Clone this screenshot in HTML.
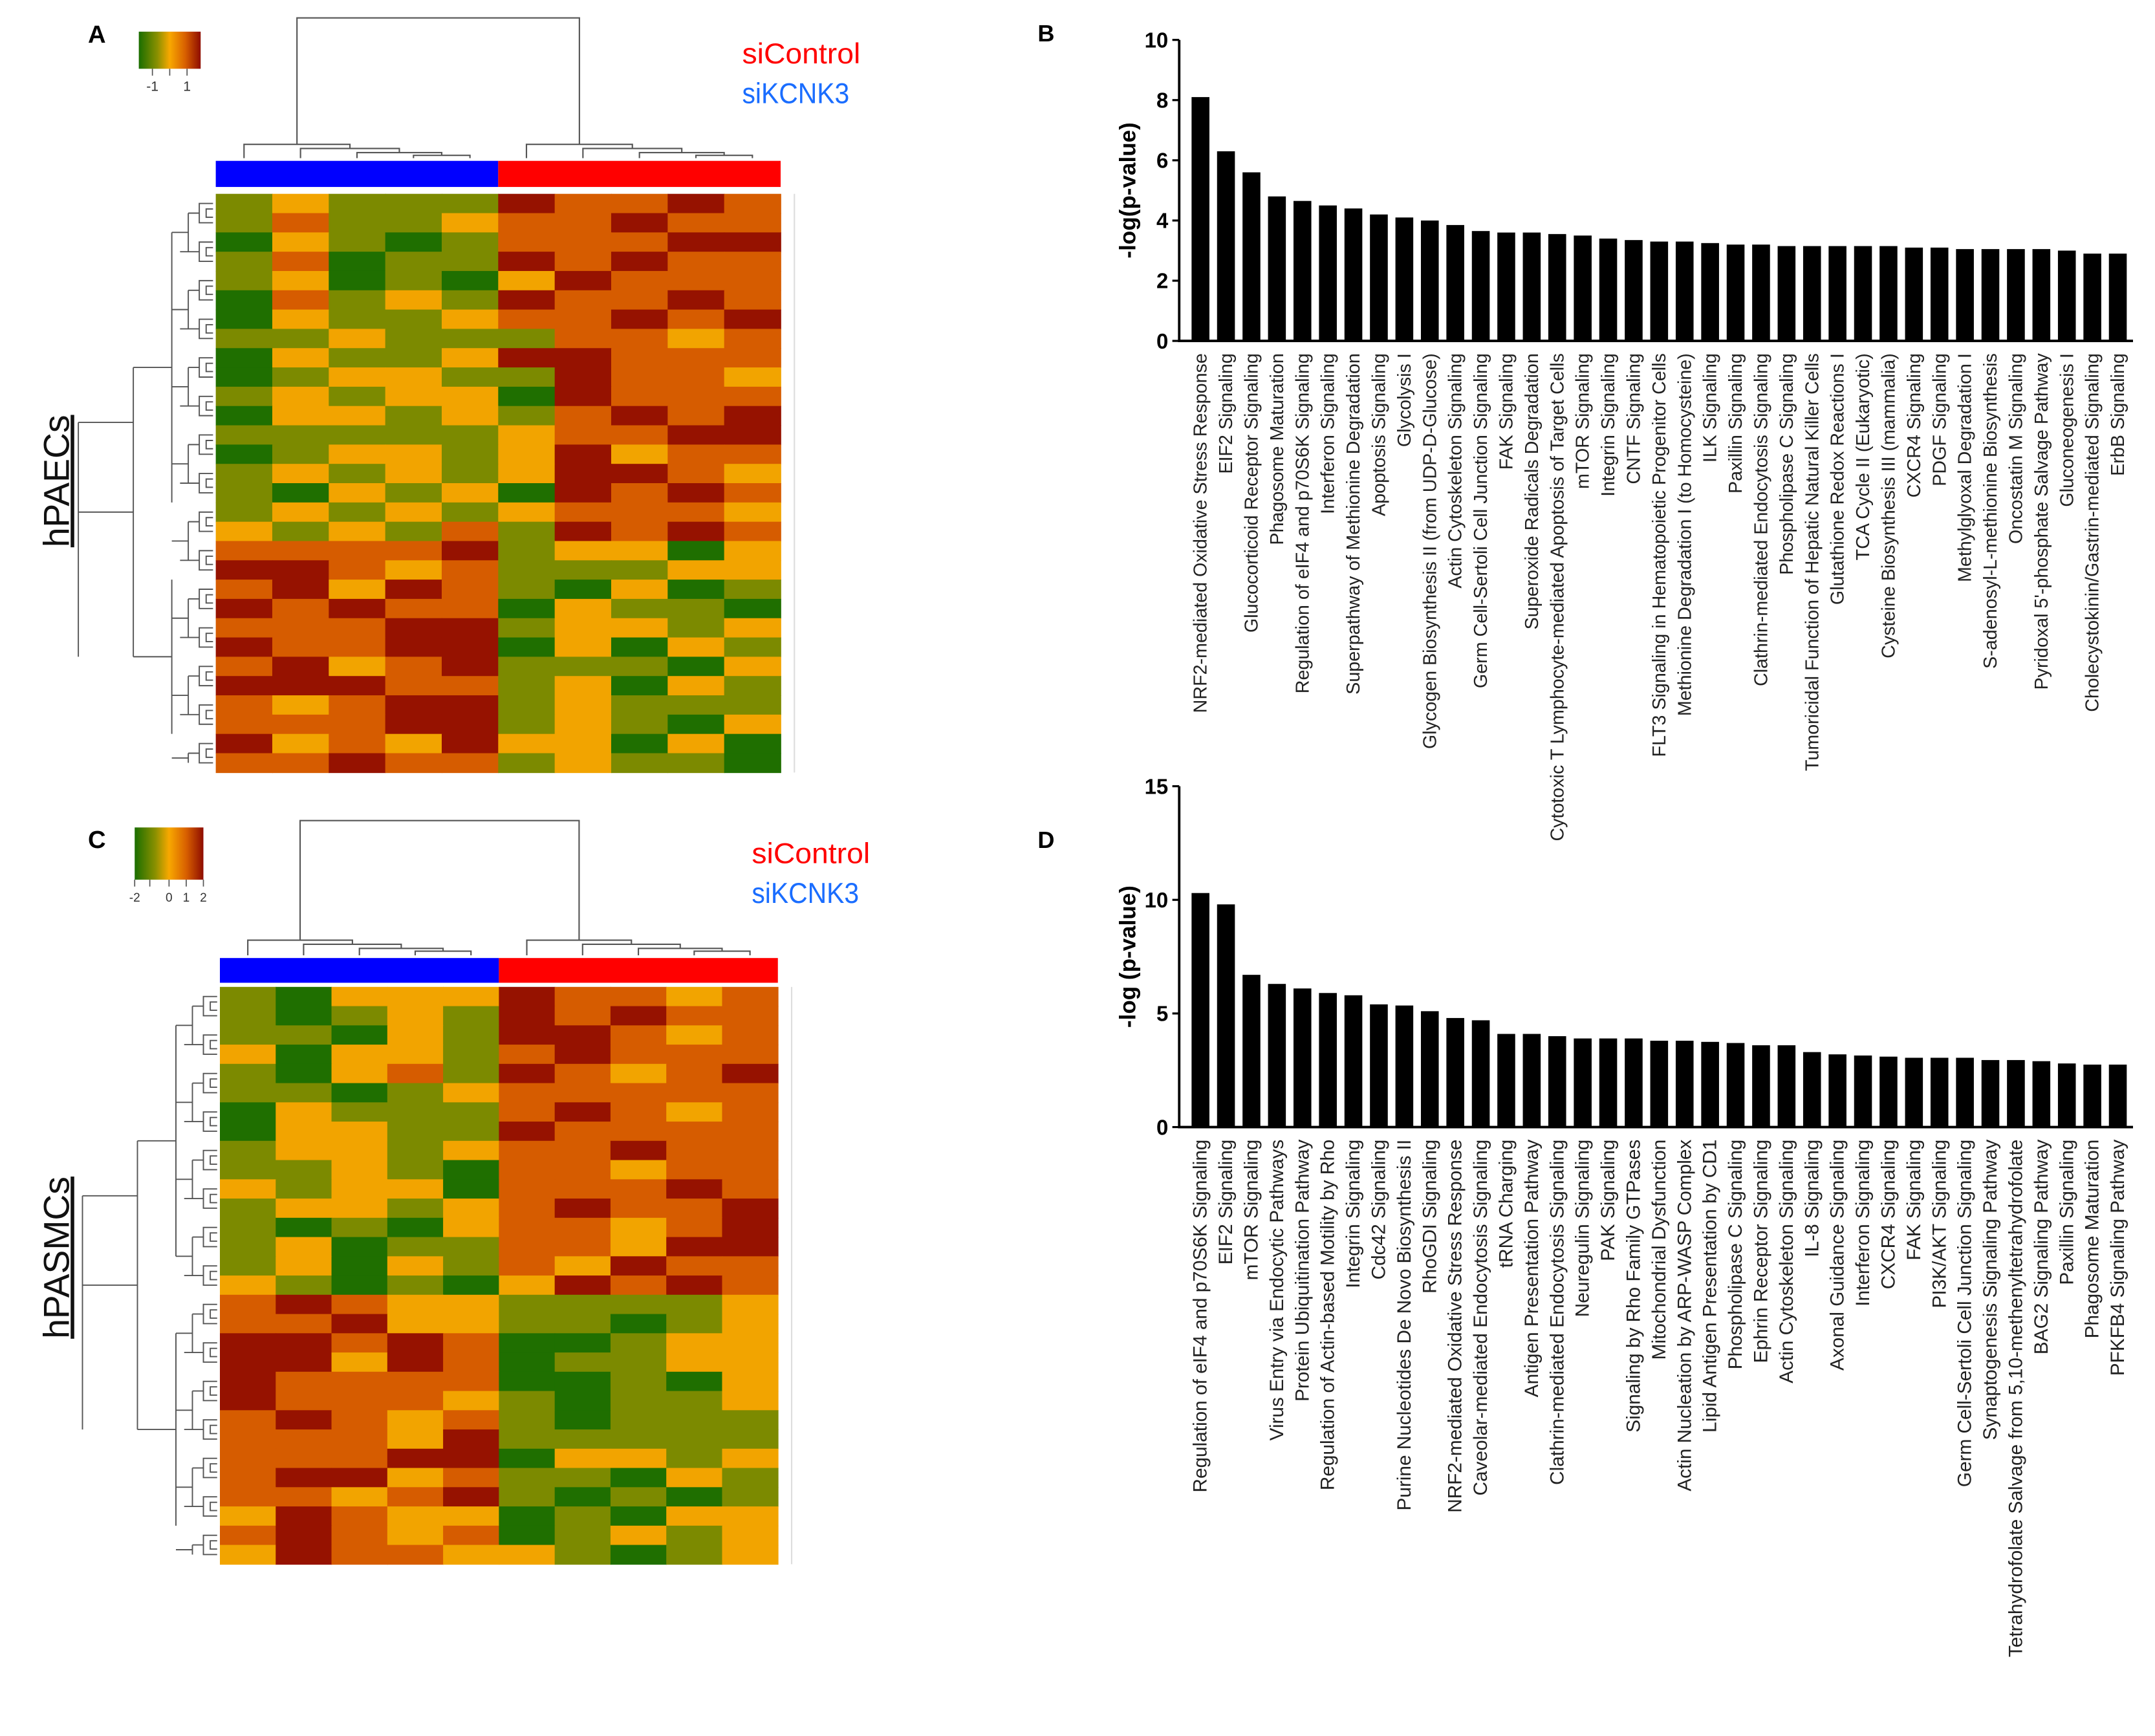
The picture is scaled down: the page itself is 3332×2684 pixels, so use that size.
<!DOCTYPE html>
<html><head><meta charset="utf-8">
<style>
html,body{margin:0;padding:0;background:#fff;}
svg{display:block;}
text{font-family:"Liberation Sans",Arial,sans-serif;}
</style></head>
<body>
<svg id="fig" width="3332" height="2684" viewBox="0 0 1568 1263" xmlns="http://www.w3.org/2000/svg">
<defs>
<linearGradient id="keygrad" x1="0" x2="1" y1="0" y2="0">
<stop offset="0" stop-color="#1a6e00"/><stop offset="0.3" stop-color="#8a9000"/><stop offset="0.5" stop-color="#f8a800"/><stop offset="0.75" stop-color="#d86000"/><stop offset="1" stop-color="#8e0c00"/>
</linearGradient>
</defs>
<g id="panelA"></g>
<g id="panelC"></g>
<g id="panelB"></g>
<g id="panelD"></g>
</svg>
<script>
// ---------- Panel B data ----------
const catsB = ["NRF2-mediated Oxidative Stress Response","EIF2 Signaling","Glucocorticoid Receptor Signaling","Phagosome Maturation","Regulation of eIF4 and p70S6K Signaling","Interferon Signaling","Superpathway of Methionine Degradation","Apoptosis Signaling","Glycolysis I","Glycogen Biosynthesis II (from UDP-D-Glucose)","Actin Cytoskeleton Signaling","Germ Cell-Sertoli Cell Junction Signaling","FAK Signaling","Superoxide Radicals Degradation","Cytotoxic T Lymphocyte-mediated Apoptosis of Target Cells","mTOR Signaling","Integrin Signaling","CNTF Signaling","FLT3 Signaling in Hematopoietic Progenitor Cells","Methionine Degradation I (to Homocysteine)","ILK Signaling","Paxillin Signaling","Clathrin-mediated Endocytosis Signaling","Phospholipase C Signaling","Tumoricidal Function of Hepatic Natural Killer Cells","Glutathione Redox Reactions I","TCA Cycle II (Eukaryotic)","Cysteine Biosynthesis III (mammalia)","CXCR4 Signaling","PDGF Signaling","Methylglyoxal Degradation I","S-adenosyl-L-methionine Biosynthesis","Oncostatin M Signaling","Pyridoxal 5'-phosphate Salvage Pathway","Gluconeogenesis I","Cholecystokinin/Gastrin-mediated Signaling","ErbB Signaling"];
const valsB = [8.1,6.3,5.6,4.8,4.65,4.5,4.4,4.2,4.1,4.0,3.85,3.65,3.6,3.6,3.55,3.5,3.4,3.35,3.3,3.3,3.25,3.2,3.2,3.15,3.15,3.15,3.15,3.15,3.1,3.1,3.05,3.05,3.05,3.05,3.0,2.9,2.9];
const ticksB = [0,2,4,6,8,10];
// ---------- Panel D data ----------
const catsD = ["Regulation of eIF4 and p70S6K Signaling","EIF2 Signaling","mTOR Signaling","Virus Entry via Endocytic Pathways","Protein Ubiquitination Pathway","Regulation of Actin-based Motility by Rho","Integrin Signaling","Cdc42 Signaling","Purine Nucleotides De Novo Biosynthesis II","RhoGDI Signaling","NRF2-mediated Oxidative Stress Response","Caveolar-mediated Endocytosis Signaling","tRNA Charging","Antigen Presentation Pathway","Clathrin-mediated Endocytosis Signaling","Neuregulin Signaling","PAK Signaling","Signaling by Rho Family GTPases","Mitochondrial Dysfunction","Actin Nucleation by ARP-WASP Complex","Lipid Antigen Presentation by CD1","Phospholipase C Signaling","Ephrin Receptor Signaling","Actin Cytoskeleton Signaling","IL-8 Signaling","Axonal Guidance Signaling","Interferon Signaling","CXCR4 Signaling","FAK Signaling","PI3K/AKT Signaling","Germ Cell-Sertoli Cell Junction Signaling","Synaptogenesis Signaling Pathway","Tetrahydrofolate Salvage from 5,10-methenyltetrahydrofolate","BAG2 Signaling Pathway","Paxillin Signaling","Phagosome Maturation","PFKFB4 Signaling Pathway"];
const valsD = [10.3,9.8,6.7,6.3,6.1,5.9,5.8,5.4,5.35,5.1,4.8,4.7,4.1,4.1,4.0,3.9,3.9,3.9,3.8,3.8,3.75,3.7,3.6,3.6,3.3,3.2,3.15,3.1,3.05,3.05,3.05,2.95,2.95,2.9,2.8,2.75,2.75];
const ticksD = [0,5,10,15];
// ---------- Heatmap data (levels 0=dark green .. 4=dark red) ----------
const heatA = ["1211143343","1311233433","0210133344","1301143433","1201024333","0312143343","0211233434","1121113323","0211244333","0122114332","1212204333","0221213434","1111123344","0122124233","1212124432","1021204343","1212123332","2121314343","3333412202","4432311122","3424310201","4343302110","3334412212","4334402021","3423411102","4443312021","3234412111","3334412102","4232422020","3343312110"];
const heatC = ["1022243323","1012143433","1102144323","2022134333","1023143234","1101233333","0211134323","0221143333","1221233433","1121033233","2122033343","1221234334","1010233234","1201133244","1202132433","2101024343","3432211112","3342211012","4434300122","4424301122","4333300102","4333210112","3432310111","3332411111","3334402212","3442311021","3323410101","2432201022","3432301212","2433221012"];
const heatColors = ["#1f6f00","#7c8a00","#f2a400","#d65c00","#961200"];
const NS = "http://www.w3.org/2000/svg";
function mk(parent, tag, attrs, txt){
  const e = document.createElementNS(NS, tag);
  for (const k in attrs) e.setAttribute(k, attrs[k]);
  if (txt !== undefined) e.textContent = txt;
  parent.appendChild(e); return e;
}

// ---------- Bar chart ----------
function barChart(gid, cats, vals, ticks, cfg){
  const g = document.getElementById(gid);
  const x0 = 858, xEnd = 1552, y0 = cfg.y0, yTop = cfg.yTop, vmax = ticks[ticks.length-1];
  const yS = v => y0 - (v / vmax) * (y0 - yTop);
  const band = (xEnd - 866) / cats.length;
  const xS = i => 866 + band * i;
  const lab = mk(g,'text',{x:755,y:cfg.letterY,'font-size':17,'font-weight':'bold'},cfg.letter);
  
  
  vals.forEach((v,i)=>{
    const r = mk(g,'rect',{x:xS(i)+1, y:yS(v), width:band*0.7, height:y0-yS(v), fill:'#000'});
    
    
    const t = mk(g,'text',{transform:`translate(${xS(i)+1+band*0.35+4.5},${y0+9}) rotate(-90)`,'text-anchor':'end','font-size':cfg.fs,fill:'#222'},cats[i]);
    
    
  });
  const ax = mk(g,'path',{d:`M${x0},${yTop} V${y0} H${xEnd}`,stroke:'#000','stroke-width':1.8,fill:'none'});
  
  
  ticks.forEach(tv=>{
    mk(g,'line',{x1:x0-5,x2:x0,y1:yS(tv),y2:yS(tv),stroke:'#000','stroke-width':1.5});
    const t = mk(g,'text',{x:x0-8,y:yS(tv)+5.5,'text-anchor':'end','font-size':15.5,'font-weight':'bold'},String(tv));
    
    
  });
  const yt = mk(g,'text',{transform:`translate(${cfg.ylx},${(y0+yTop)/2}) rotate(-90)`,'text-anchor':'middle','font-size':16.5,'font-weight':'bold'},cfg.ylabel);
  
  
}
barChart('panelB', catsB, valsB, ticksB, {y0:248, yTop:29, letter:'B', letterY:30, fs:13.5, ylabel:'-log(p-value)', ylx:826});
barChart('panelD', catsD, valsD, ticksD, {y0:820, yTop:572, letter:'D', letterY:617, fs:14, ylabel:'-log (p-value)', ylx:826});

// ---------- Heatmap ----------
function heatmap(gid, rows, cfg){
  const g = document.getElementById(gid);
  const L = cfg.x0, R = cfg.x1, T = cfg.y0, B = cfg.y1;
  const cw = (R-L)/10, rh = (B-T)/rows.length;
  rows.forEach((row,ri)=>{
    for(let ci=0;ci<10;ci++){
      const c = mk(g,'rect',{x:L+ci*cw,y:T+ri*rh,width:cw+0.4,height:rh+0.4,fill:heatColors[+row[ci]]});
      
      
    }
  });
  mk(g,'line',{x1:R+10,x2:R+10,y1:T,y2:B,stroke:'#ddd','stroke-width':1});
  const bb = mk(g,'rect',{x:L,y:cfg.barY,width:(R-L)/2,height:cfg.barH,fill:'#0000ff'});
  
  
  const rb = mk(g,'rect',{x:(L+R)/2,y:cfg.barY,width:(R-L)/2,height:cfg.barH,fill:'#ff0000'});
  
  
  const cx = i => L + cw*(i+0.5);
  const yb = cfg.barY - 2;
  let d = '';
  [[0,1,2,3,4],[5,6,7,8,9]].forEach(grp=>{
    const hs=[cfg.dTop+16, cfg.dTop+14, cfg.dTop+11, cfg.dTop+8];
    let right = (cx(grp[3])+cx(grp[4]))/2;
    d += `M${cx(grp[3])},${yb}V${hs[0]}H${cx(grp[4])}V${yb}`;
    let prevY = hs[0];
    for(let k=2;k>=0;k--){
      const y = hs[3-k];
      d += `M${cx(grp[k])},${yb}V${y}H${right}V${prevY}`;
      right = (cx(grp[k])+right)/2; prevY = y;
    }
  });
  const lm = (cx(0)+ (cx(1)+(cx(2)+(cx(3)+cx(4))/2)/2)/2)/2;
  const rm = (cx(5)+ (cx(6)+(cx(7)+(cx(8)+cx(9))/2)/2)/2)/2;
  d += `M${lm},${cfg.dTop+8}V${cfg.rootY}H${rm}V${cfg.dTop+8}`;
  const dp = mk(g,'path',{d:d,stroke:'#555','stroke-width':1,fill:'none'});
  
  
  const ry = i => T + rh*(i+0.5);
  let rd='';
  const split = cfg.split;
  const yTopC = (T + T+split*rh)/2, yBotC = (T+split*rh + B)/2;
  for(let i=0;i<rows.length;i+=2){
    const a=ry(i), b=ry(Math.min(i+1,rows.length-1));
    rd += `M${L-2},${a}H${L-12}V${b}H${L-2}`;
    rd += `M${L-2},${(a+b)/2-3}H${L-7}V${(a+b)/2+3}H${L-2}`;
    rd += `M${L-12},${(a+b)/2}H${L-20 - (i%4)*3}`;
  }
  for(let i=0;i<rows.length;i+=4){
    const a=(ry(i)+ry(i+1))/2, b=(ry(Math.min(i+2,rows.length-1))+ry(Math.min(i+3,rows.length-1)))/2;
    rd += `M${L-20},${a}V${b}M${L-20},${(a+b)/2}H${L-32}`;
  }
  const top1=T+rh*2, top2=T+split*rh-rh*2, bot1=T+split*rh+rh*2, bot2=B-rh*2;
  rd += `M${L-32},${top1}V${top2}M${L-32},${bot1}V${bot2}`;
  rd += `M${L-32},${yTopC}H${L-60}M${L-32},${yBotC}H${L-60}`;
  rd += `M${L-60},${yTopC}V${yBotC}`;
  rd += `M${L-60},${(yTopC+yBotC)/2}H${L-100}`;
  rd += `M${L-100},${yTopC+40}V${yBotC}`;
  rd += `M${L-60},${yTopC+40}H${L-100}`;
  const rp = mk(g,'path',{d:rd,stroke:'#555','stroke-width':0.9,fill:'none'});
  
  
  const k = mk(g,'rect',{x:cfg.kx,y:cfg.ky,width:cfg.kw,height:cfg.kh,fill:'url(#keygrad)'});
  
  
  cfg.kTicks.forEach(([f,lbl])=>{
    const tx = cfg.kx + f*cfg.kw;
    mk(g,'line',{x1:tx,x2:tx,y1:cfg.ky+cfg.kh,y2:cfg.ky+cfg.kh+5,stroke:'#555','stroke-width':0.8});
    if(lbl!=='') mk(g,'text',{x:tx,y:cfg.ky+cfg.kh+16,'text-anchor':'middle','font-size':cfg.kfs,fill:'#333'},lbl);
  });
  const pl = mk(g,'text',{x:64,y:cfg.letterY,'font-size':18,'font-weight':'bold'},cfg.letter);
  
  
  const l1 = mk(g,'text',{x:cfg.legX,y:cfg.legY,'font-size':21,fill:'#ff0000',textLength:86,lengthAdjust:'spacingAndGlyphs'},'siControl');
  
  
  const l2 = mk(g,'text',{x:cfg.legX,y:cfg.legY+29,'font-size':21,fill:'#1a6dff',textLength:78,lengthAdjust:'spacingAndGlyphs'},'siKCNK3');
  
  
  const yl = mk(g,'text',{transform:`translate(${cfg.ylx},${cfg.yly}) rotate(-90)`,'text-anchor':'middle','font-size':26,'text-decoration':'underline',fill:'#111'},cfg.ylabel);
  
  
}
heatmap('panelA', heatA, {x0:157,x1:568,y0:141,y1:562,barY:117,barH:19,dTop:97,rootY:13,split:18,
  kx:101,ky:23,kw:45,kh:27,kfs:10,kTicks:[[0.22,'-1'],[0.5,''],[0.78,'1']],letter:'A',letterY:31,legX:540,legY:46,
  ylx:50,yly:350,ylabel:'hPAECs'});
heatmap('panelC', heatC, {x0:160,x1:566,y0:718,y1:1138,barY:697,barH:18,dTop:676,rootY:597,split:16,
  kx:98,ky:602,kw:50,kh:38,kfs:9,kTicks:[[0,'-2'],[0.22,''],[0.5,'0'],[0.75,'1'],[1,'2']],letter:'C',letterY:617,legX:547,legY:628,
  ylx:50,yly:915,ylabel:'hPASMCs'});
</script>
</body></html>
